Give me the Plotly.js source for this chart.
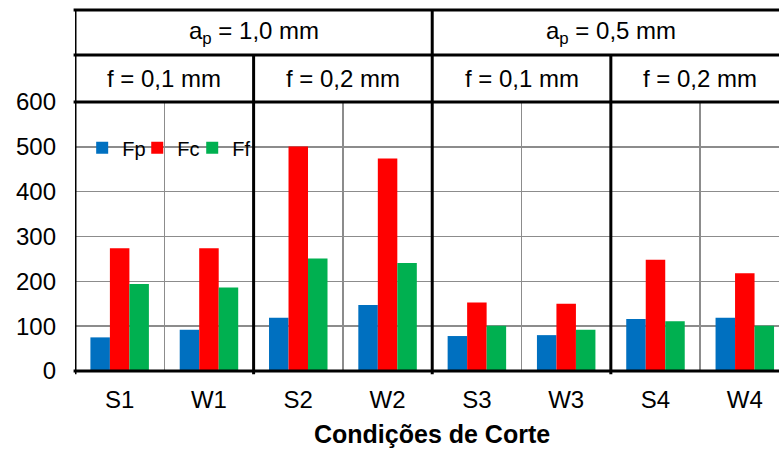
<!DOCTYPE html>
<html>
<head>
<meta charset="utf-8">
<script src="https://cdn.plot.ly/plotly-3.0.1.min.js"></script>
<style>html,body{margin:0;padding:0;background:#fff;}#chart{width:779px;height:449px;}</style>
</head>
<body>
<div id="chart"></div>
<script>
var categories = ["S1", "W1", "S2", "W2", "S3", "W3", "S4", "W4"];
var seriesNames = ["Fp", "Fc", "Ff"];
var fpValues = [75, 92, 119, 147, 78, 80, 116, 119];
var fcValues = [274, 274, 501, 474, 153, 150, 248, 218];
var ffValues = [194, 186, 251, 241, 101, 92, 111, 101];
var seriesColors = ["#0070C0", "#FF0000", "#00B050"];
var apLabels = ["a<sub>p</sub> = 1,0 mm", "a<sub>p</sub> = 0,5 mm"];
var fLabels = ["f = 0,1 mm", "f = 0,2 mm", "f = 0,1 mm", "f = 0,2 mm"];
var yTicks = [0, 100, 200, 300, 400, 500, 600];
var xTitle = "Condições de Corte";

var FONT = "Liberation Sans, Arial, sans-serif";
var values = [fpValues, fcValues, ffValues];
var legendIds = ["legend", "legend2", "legend3"];
var traces = seriesNames.map(function (n, i) {
  return {
    type: "bar", name: n, x: categories, y: values[i], legend: legendIds[i],
    marker: {color: seriesColors[i], line: {width: 0}},
    hoverinfo: "x+y+name"
  };
});

// geometry (paper units)
var yRow1 = 1.1747, yTop = 1.342;
var shapes = [];
function vline(x, y1) {
  shapes.push({type: "line", xref: "x", yref: "paper", x0: x, x1: x, y0: -0.012, y1: y1,
    line: {color: "#000", width: 3}});
}
function hline(y) {
  shapes.push({type: "line", xref: "paper", yref: "paper", x0: -0.002, x1: 1, y0: y, y1: y,
    line: {color: "#000", width: 3}});
}
// white backdrop behind the legend (hides the gridline like the original)
shapes.push({type: "rect", xref: "paper", yref: "paper", x0: 0.0156, x1: 0.2585, y0: 0.784, y1: 0.874,
  fillcolor: "#fff", line: {width: 0}, layer: "between"});
hline(0); hline(1); hline(yRow1); hline(yTop);
vline(-0.5, yTop); vline(3.5, yTop); vline(1.5, yRow1); vline(5.5, yRow1);

var annotations = [];
apLabels.forEach(function (t, i) {
  annotations.push({text: t, xref: "x", yref: "paper", x: 1.5 + 4 * i, y: (yTop + yRow1) / 2,
    xanchor: "center", yanchor: "middle", showarrow: false, font: {family: FONT, size: 24, color: "#000"}});
});
fLabels.forEach(function (t, i) {
  annotations.push({text: t, xref: "x", yref: "paper", x: 0.5 + 2 * i, y: (yRow1 + 1) / 2,
    xanchor: "center", yanchor: "middle", showarrow: false, font: {family: FONT, size: 24, color: "#000"}});
});
annotations.push({text: "<b>" + xTitle + "</b>", xref: "paper", yref: "paper", x: 0.507, y: -0.236,
  xanchor: "center", yanchor: "middle", showarrow: false, font: {family: FONT, size: 25, color: "#000"}});

function legendAt(xp) {
  return {orientation: "h", x: xp, y: 0.83, xanchor: "left", yanchor: "middle",
    bgcolor: "rgba(0,0,0,0)", borderwidth: 0, font: {family: FONT, size: 20, color: "#000"},
    itemwidth: 30};
}

var layout = {
  width: 779, height: 449,
  margin: {l: 75, r: 0, t: 102, b: 78, pad: 0},
  paper_bgcolor: "#fff", plot_bgcolor: "#fff",
  font: {family: FONT, size: 24, color: "#000"},
  barmode: "group", bargap: 0.345, bargroupgap: 0,
  showlegend: true,
  legend: legendAt(0.0102),
  legend2: legendAt(0.0884),
  legend3: legendAt(0.1665),
  xaxis: {type: "category", categoryorder: "array", categoryarray: categories,
    range: [-0.5, 7.383], tickson: "boundaries", showgrid: true, gridcolor: "#8c8c8c", gridwidth: 1.5,
    ticks: "", showline: false, zeroline: false, ticklabelstandoff: 12,
    tickfont: {family: FONT, size: 24, color: "#000"}, fixedrange: true},
  yaxis: {range: [0, 600], tickmode: "array", tickvals: yTicks, ticktext: yTicks.map(String),
    showgrid: true, gridcolor: "#8c8c8c", gridwidth: 1.5, zeroline: false, showline: false,
    ticks: "", ticklabelstandoff: 18, tickfont: {family: FONT, size: 24, color: "#000"}, fixedrange: true},
  shapes: shapes,
  annotations: annotations
};
Plotly.newPlot("chart", traces, layout, {displayModeBar: false, staticPlot: true});
</script>
</body>
</html>
